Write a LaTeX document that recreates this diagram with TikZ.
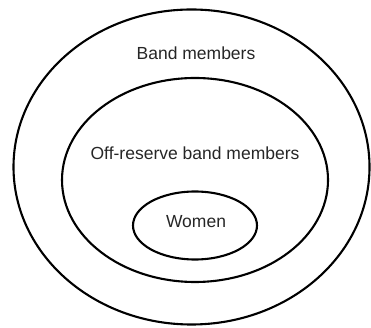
\documentclass[tikz,border=0pt]{standalone}
\usepackage{fontspec}
\setmainfont{Liberation Sans}
\begin{document}
\begin{tikzpicture}[x=1pt,y=1pt,
  ring/.style={draw=black,line width=2.1pt},
  lbl/.style={text=black!85,font=\fontsize{17.5}{19}\selectfont,inner sep=0pt}]
\useasboundingbox (0,0) rectangle (371,328);
\draw[ring] (191.5,161) ellipse [x radius=178, y radius=157.5];
\draw[ring] (195,148) ellipse [x radius=133, y radius=102];
\draw[ring] (195,102.5) ellipse [x radius=62, y radius=34];
\node[lbl] (band) at (196,275) {Band members};
\node[lbl] (off) at (195,175) {Off-reserve band members};
\node[lbl] (women) at (196,106) {Women};
\end{tikzpicture}
\end{document}
